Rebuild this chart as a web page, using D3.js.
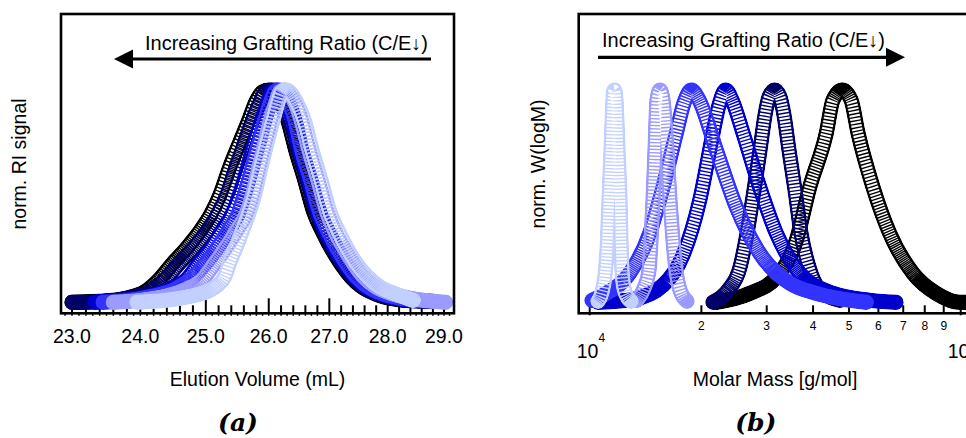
<!DOCTYPE html>
<html>
<head>
<meta charset="utf-8">
<script src="https://cdn.jsdelivr.net/npm/d3@7"></script>
<style>
  body { margin: 0; background: #fff; }
  svg { display: block; }
  text { font-family: "Liberation Sans", Arial, sans-serif; fill: #000; }
</style>
</head>
<body>
<svg id="fig" width="966" height="438"></svg>
<script>
// ---------- (a) RI traces: [elution volume (mL), normalised RI signal] ----------
const riBlack = [[23.00,0],[23.41,0.005],[23.78,0.019],[24.08,0.052],[24.30,0.113],[24.49,0.184],[24.70,0.255],[24.92,0.34],[25.07,0.41],[25.22,0.505],[25.37,0.632],[25.53,0.75],[25.68,0.858],[25.79,0.943],[25.90,0.991],[26.00,1],[26.10,0.986],[26.20,0.939],[26.31,0.858],[26.44,0.717],[26.59,0.575],[26.74,0.425],[26.90,0.325],[27.05,0.245],[27.20,0.179],[27.37,0.118],[27.54,0.075],[27.80,0.038],[28.15,0.014],[28.60,0.005]];
const riNavy = [[23.00,0],[23.41,0.002],[23.82,0.019],[24.15,0.052],[24.39,0.113],[24.59,0.184],[24.81,0.255],[25.03,0.34],[25.18,0.41],[25.33,0.505],[25.47,0.632],[25.61,0.75],[25.74,0.858],[25.86,0.943],[25.95,0.991],[26.05,1],[26.15,0.986],[26.25,0.939],[26.35,0.858],[26.48,0.717],[26.63,0.575],[26.78,0.425],[26.93,0.325],[27.08,0.245],[27.23,0.179],[27.40,0.118],[27.58,0.075],[27.85,0.038],[28.24,0.014],[28.69,0.005]];
const riMedium = [[23.33,0],[23.70,0.009],[24.08,0.024],[24.42,0.057],[24.69,0.104],[24.90,0.184],[25.09,0.255],[25.26,0.34],[25.41,0.41],[25.53,0.505],[25.66,0.632],[25.77,0.75],[25.89,0.858],[25.99,0.943],[26.05,0.991],[26.12,1],[26.20,0.986],[26.30,0.939],[26.39,0.858],[26.51,0.717],[26.66,0.575],[26.81,0.425],[26.96,0.325],[27.11,0.245],[27.27,0.179],[27.44,0.118],[27.61,0.075],[27.89,0.038],[28.28,0.014],[28.74,0.005]];
const riBlue = [[23.45,0],[23.82,0.009],[24.18,0.028],[24.52,0.061],[24.76,0.108],[25.00,0.184],[25.18,0.255],[25.36,0.34],[25.50,0.41],[25.61,0.505],[25.73,0.632],[25.84,0.75],[25.94,0.858],[26.03,0.943],[26.10,0.991],[26.16,1],[26.23,0.986],[26.33,0.939],[26.43,0.858],[26.54,0.717],[26.69,0.575],[26.84,0.425],[27.00,0.325],[27.15,0.245],[27.30,0.179],[27.47,0.118],[27.65,0.075],[27.94,0.038],[28.35,0.014],[28.81,0.005]];
const riLavender = [[23.60,0],[24.00,0.009],[24.38,0.028],[24.70,0.061],[24.95,0.108],[25.14,0.184],[25.31,0.255],[25.49,0.34],[25.63,0.41],[25.74,0.505],[25.84,0.632],[25.94,0.75],[26.03,0.858],[26.12,0.943],[26.18,0.991],[26.25,1],[26.33,0.986],[26.43,0.939],[26.53,0.858],[26.66,0.717],[26.81,0.575],[26.96,0.425],[27.11,0.325],[27.27,0.245],[27.42,0.179],[27.59,0.118],[27.78,0.075],[28.10,0.038],[28.51,0.014],[29.03,0]];
const riPale = [[23.95,0],[24.38,0.009],[24.76,0.028],[25.03,0.052],[25.18,0.08],[25.30,0.123],[25.37,0.184],[25.47,0.255],[25.58,0.34],[25.68,0.42],[25.76,0.495],[25.87,0.632],[25.97,0.75],[26.07,0.858],[26.15,0.943],[26.21,0.991],[26.28,1],[26.36,0.986],[26.46,0.939],[26.58,0.858],[26.71,0.717],[26.86,0.575],[27.01,0.425],[27.17,0.325],[27.32,0.245],[27.47,0.179],[27.66,0.118],[27.85,0.075],[28.15,0.038],[28.45,0.009]];

// ---------- (b) molar mass distributions: [M (g/mol), normalised W(logM)] ----------
const wBlack = [[21939,0],[27000,0.042],[31843,0.118],[36055,0.292],[39174,0.542],[43424,0.797],[45266,0.953],[47963,1],[50625,0.953],[52874,0.797],[58019,0.542],[64358,0.325],[74359,0.137],[85914,0.042],[99380,0],[116000,0]];
const wNavy = [[21494,0],[23594,0.057],[25421,0.165],[26551,0.325],[27727,0.528],[28779,0.717],[29686,0.882],[30433,0.967],[31525,1],[32580,0.967],[33398,0.882],[34450,0.717],[35765,0.528],[37120,0.325],[39004,0.165],[41759,0.057],[47284,0.009]];
const wMedium = [[10529,0],[13083,0.014],[15760,0.08],[17844,0.222],[19796,0.481],[21494,0.797],[22310,0.929],[23260,1],[24187,0.953],[25900,0.797],[28725,0.542],[31843,0.325],[36822,0.137],[45266,0.042],[56950,0.009],[66924,0]];
const wBlue = [[10144,0.009],[11085,0.042],[12818,0.137],[14511,0.325],[15760,0.542],[17118,0.797],[17956,0.939],[18787,1],[19710,0.953],[21939,0.717],[24845,0.448],[28725,0.231],[34600,0.09],[40812,0.042],[55677,0]];
const wLavender = [[13412,0.009],[14007,0.066],[14449,0.151],[14629,0.292],[14811,0.481],[14996,0.717],[15183,0.953],[15469,1],[15760,0.953],[16157,0.717],[16460,0.481],[16770,0.292],[17086,0.151],[17515,0.057],[18292,0.005]];
const wPale = [[10529,0.005],[10793,0.047],[10996,0.127],[11133,0.245],[11272,0.481],[11413,0.717],[11520,0.906],[11591,0.991],[11664,1],[11773,0.953],[11920,0.717],[12069,0.481],[12144,0.292],[12220,0.151],[12372,0.066],[12683,0.019],[12922,0.005]];

// sample colours, darkest (highest molar mass) first
const sampleColors = ["#000000", "#000066", "#0000cc", "#3333ff", "#9a9aff", "#c2d0ff"];
const riSeries = [riBlack, riNavy, riMedium, riBlue, riLavender, riPale];
const wSeries = [wBlack, wNavy, wMedium, wBlue, wLavender, wPale];

// axis ticks
const volumeMajorTicks = [23, 24, 25, 26, 27, 28, 29];
const volumeTickLabels = ["23.0", "24.0", "25.0", "26.0", "27.0", "28.0", "29.0"];
const massMinorTicks = [2e4, 3e4, 4e4, 5e4, 6e4, 7e4, 8e4, 9e4];
const massMinorLabels = ["2", "3", "4", "5", "6", "7", "8", "9"];
const massMajorTicks = [1e4, 1e5];
const massMajorExponents = ["4", "5"];

const annotation = "Increasing Grafting Ratio (C/E\u2193)";

// ---------- layout ----------
const svg = d3.select("#fig");
const defs = svg.append("defs");
const FONT = 19.5;
const panelA = { left: 61, right: 454, top: 14, bottom: 313.3 };
const panelB = { left: 578.7, right: 1000, top: 14, bottom: 313.3 };

const yScale = d3.scaleLinear().domain([-0.052, 1.358]).range([313.3, 14]);
const xVol = d3.scaleLog().domain([23, 29]).range([72, 444]);
const xMass = d3.scaleLog().domain([1e4, 1e5]).range([589.7, 960.7]);

function clip(id, p) {
  defs.append("clipPath").attr("id", id)
    .append("rect").attr("x", p.left).attr("y", p.top)
    .attr("width", p.right - p.left).attr("height", p.bottom - p.top);
}
clip("clipA", panelA);
clip("clipB", panelB);

// Open ring markers drawn as a banded stroke: solid rims, and across the interior
// one thin rim stripe per marker. Markers are evenly spaced horizontally, so the
// stripes spread apart where the trace is steep and close up where it is flat.
const BAND = 15.5, INNER = 10.5, RIM = 1.4, SMAX = 3.4;
function ringDashes(node, dx0) {
  const L = node.getTotalLength();
  const out = [];
  let pos = 0;
  while (pos < L) {
    const a = node.getPointAtLength(pos);
    const b = node.getPointAtLength(Math.min(L, pos + 1));
    const seg = Math.hypot(b.x - a.x, b.y - a.y) || 1;
    const cos = Math.abs(b.x - a.x) / seg;
    const s = Math.min(SMAX, dx0 / Math.max(cos, 0.02));
    out.push(Math.max(0, s - RIM), RIM);
    pos += Math.max(s, RIM);
  }
  return out.map(v => v.toFixed(2)).join(" ");
}

let maskCount = 0;
function drawTrail(g, pts, xs, color, dx0) {
  const line = d3.line().x(d => xs(d[0])).y(d => yScale(d[1])).curve(d3.curveMonotoneX);
  const d = line(pts);
  const id = "ring" + (maskCount++);
  const trail = g.append("path").attr("d", d).attr("fill", "none").attr("stroke", color)
    .attr("stroke-width", BAND).attr("stroke-linecap", "round").attr("stroke-linejoin", "round");
  const dashes = ringDashes(trail.node(), dx0);
  const m = defs.append("mask").attr("id", id).attr("maskUnits", "userSpaceOnUse")
    .attr("x", 0).attr("y", 0).attr("width", 1000).attr("height", 438);
  m.append("path").attr("d", d).attr("fill", "none").attr("stroke", "#fff")
    .attr("stroke-width", BAND).attr("stroke-linecap", "round").attr("stroke-linejoin", "round");
  m.append("path").attr("d", d).attr("fill", "none").attr("stroke", "#000")
    .attr("stroke-width", INNER).attr("stroke-dasharray", dashes);
  trail.attr("mask", `url(#${id})`);
}

// ---------- panel (a) ----------
const gA = svg.append("g");
const minorVol = d3.range(23, 29.001, 0.2).filter(v => Math.abs(v - Math.round(v)) > 0.01);
const tinyVol = d3.range(22.9, 29.15, 0.1);
gA.selectAll("line.tiny").data(tinyVol).join("line")
  .attr("x1", d => xVol(d)).attr("x2", d => xVol(d))
  .attr("y1", panelA.bottom).attr("y2", panelA.bottom + 2.5)
  .attr("stroke", "#000").attr("stroke-width", 1.5);
gA.selectAll("line.minor").data(minorVol).join("line")
  .attr("x1", d => xVol(d)).attr("x2", d => xVol(d))
  .attr("y1", panelA.bottom).attr("y2", panelA.bottom - 8)
  .attr("stroke", "#000").attr("stroke-width", 2);
gA.selectAll("line.major").data(volumeMajorTicks).join("line")
  .attr("x1", d => xVol(d)).attr("x2", d => xVol(d))
  .attr("y1", panelA.bottom).attr("y2", panelA.bottom - 15)
  .attr("stroke", "#000").attr("stroke-width", 2);

const curvesA = gA.append("g").attr("clip-path", "url(#clipA)");
riSeries.forEach((s, i) => drawTrail(curvesA, s, xVol, sampleColors[i], 1.3));

gA.append("rect").attr("x", panelA.left).attr("y", panelA.top)
  .attr("width", panelA.right - panelA.left).attr("height", panelA.bottom - panelA.top)
  .attr("fill", "none").attr("stroke", "#000").attr("stroke-width", 2.6);

gA.selectAll("text.tick").data(volumeMajorTicks).join("text")
  .attr("x", d => xVol(d)).attr("y", 343).attr("text-anchor", "middle")
  .attr("font-size", FONT).text((d, i) => volumeTickLabels[i]);

gA.append("text").attr("x", 257.5).attr("y", 386).attr("text-anchor", "middle")
  .attr("font-size", FONT).text("Elution Volume (mL)");
gA.append("text").attr("transform", "translate(26,164) rotate(-90)").attr("text-anchor", "middle")
  .attr("font-size", FONT).text("norm. RI signal");

gA.append("text").attr("x", 145).attr("y", 50).attr("font-size", FONT)
  .attr("textLength", 283).attr("lengthAdjust", "spacingAndGlyphs").text(annotation);
gA.append("line").attr("x1", 431).attr("x2", 128).attr("y1", 59).attr("y2", 59)
  .attr("stroke", "#000").attr("stroke-width", 3.2);
gA.append("path").attr("d", "M114,59 L133,49.5 L133,68.5 Z").attr("fill", "#000");

gA.append("text").attr("x", 238).attr("y", 431).attr("text-anchor", "middle")
  .style("font-family", "'DejaVu Serif', serif").style("font-style", "italic").style("font-weight", "bold")
  .attr("font-size", 25).text("(a)");

// ---------- panel (b) ----------
const gB = svg.append("g");
gB.selectAll("line.minor").data(massMinorTicks).join("line")
  .attr("x1", d => xMass(d)).attr("x2", d => xMass(d))
  .attr("y1", panelB.bottom).attr("y2", panelB.bottom - 8)
  .attr("stroke", "#000").attr("stroke-width", 2);
gB.selectAll("line.major").data(massMajorTicks).join("line")
  .attr("x1", d => xMass(d)).attr("x2", d => xMass(d))
  .attr("y1", panelB.bottom + 2).attr("y2", panelB.bottom - 8)
  .attr("stroke", "#000").attr("stroke-width", 2);

const curvesB = gB.append("g").attr("clip-path", "url(#clipB)");
wSeries.forEach((s, i) => drawTrail(curvesB, s, xMass, sampleColors[i], 1.0));

gB.append("rect").attr("x", panelB.left).attr("y", panelB.top)
  .attr("width", panelB.right - panelB.left).attr("height", panelB.bottom - panelB.top)
  .attr("fill", "none").attr("stroke", "#000").attr("stroke-width", 2.6);

gB.selectAll("text.minor").data(massMinorTicks).join("text")
  .attr("x", d => xMass(d)).attr("y", 330).attr("text-anchor", "middle")
  .attr("font-size", 12).text((d, i) => massMinorLabels[i]);

const majorLab = gB.selectAll("text.major").data(massMajorTicks).join("text")
  .attr("x", d => xMass(d) - 13).attr("y", 358).attr("font-size", FONT);
majorLab.append("tspan").text("10");
majorLab.append("tspan").attr("dy", -16).attr("font-size", 12).text((d, i) => massMajorExponents[i]);

gB.append("text").attr("x", 775).attr("y", 386).attr("text-anchor", "middle")
  .attr("font-size", FONT).text("Molar Mass [g/mol]");
gB.append("text").attr("transform", "translate(545,164) rotate(-90)").attr("text-anchor", "middle")
  .attr("font-size", FONT).text("norm. W(logM)");

gB.append("text").attr("x", 602).attr("y", 46.5).attr("font-size", FONT)
  .attr("textLength", 283).attr("lengthAdjust", "spacingAndGlyphs").text(annotation);
gB.append("line").attr("x1", 598).attr("x2", 890).attr("y1", 57.3).attr("y2", 57.3)
  .attr("stroke", "#000").attr("stroke-width", 3.2);
gB.append("path").attr("d", "M905,57.3 L886,47.8 L886,66.8 Z").attr("fill", "#000");

gB.append("text").attr("x", 755.7).attr("y", 431).attr("text-anchor", "middle")
  .style("font-family", "'DejaVu Serif', serif").style("font-style", "italic").style("font-weight", "bold")
  .attr("font-size", 25).text("(b)");
</script>
</body>
</html>
